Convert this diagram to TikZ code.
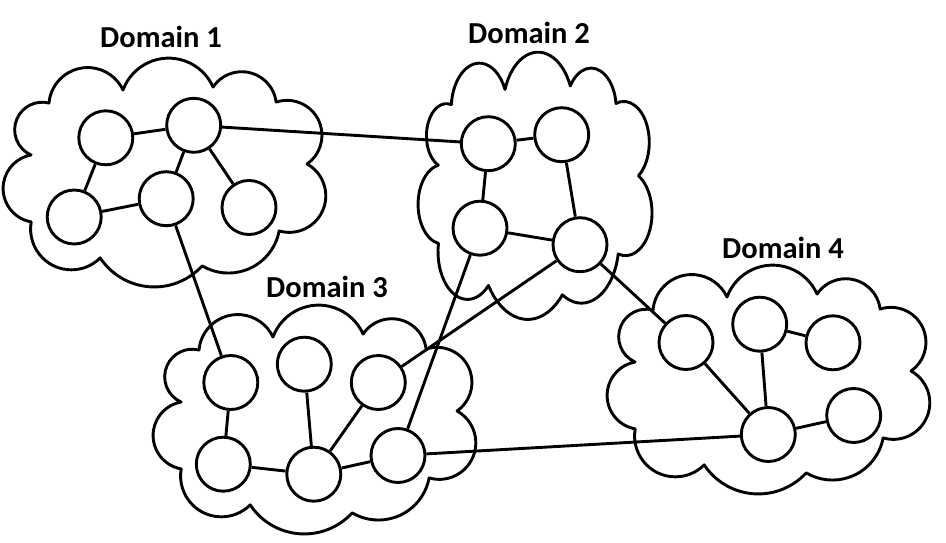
\documentclass[tikz,border=0pt]{standalone}
\usepackage{fontspec}
\setmainfont{Carlito}
\newcommand\mycloud[1]{%
  \begin{scope}[#1]
    \draw[cloudline] (28,-97)
      arc[start angle=245.9, delta angle=-170, radius=27.6]
      arc[start angle=174.96, delta angle=-150, radius=38.9]
      arc[start angle=159.9, delta angle=-136, radius=48.6]
      arc[start angle=146.1, delta angle=-139, radius=34.6]
      arc[start angle=108.07, delta angle=-163, radius=35.0]
      arc[start angle=60.82, delta angle=-167, radius=36.5]
      arc[start angle=-10.56, delta angle=-110, radius=51.6]
      arc[start angle=317.52, delta angle=-104, radius=64.9]
      arc[start angle=314.95, delta angle=-145, radius=40.8]
      arc[start angle=260, delta angle=-160, radius=34.0]
      -- cycle;
  \end{scope}}
\begin{document}
\begin{tikzpicture}[x=1pt,y=1pt,
  nd/.style={circle,draw,line width=2.9pt,fill=white,minimum size=54pt,inner sep=0pt},
  cloudline/.style={line width=2.9pt,line join=round},
  edge/.style={line width=2.9pt},
  lbl/.style={font=\fontsize{30.5}{36}\selectfont\bfseries,inner sep=0pt}]
\useasboundingbox (0,0) rectangle (946,-543);
% clouds
\mycloud{shift={(3,-58)}}
\mycloud{shift={(418,-52)},xscale=0.725,yscale=1.168}
\mycloud{shift={(153,-305)}}
\mycloud{shift={(607,-265)}}
% nodes
\node[nd] (A1) at (105.8,-137.8) {};
\node[nd] (A2) at (193.7,-125.3) {};
\node[nd] (A3) at (74.2,-217) {};
\node[nd] (A4) at (166.2,-198.7) {};
\node[nd] (A5) at (249,-207.5) {};
\node[nd] (B1) at (488.3,-143.7) {};
\node[nd] (B2) at (561.7,-134.7) {};
\node[nd] (B3) at (480,-228.2) {};
\node[nd] (B4) at (580,-244.7) {};
\node[nd] (C1) at (230.8,-382.5) {};
\node[nd] (C2) at (304.3,-364.2) {};
\node[nd] (C3) at (378.3,-382.5) {};
\node[nd] (C4) at (223.3,-464.2) {};
\node[nd] (C5) at (313.8,-474.2) {};
\node[nd] (C6) at (398,-455.5) {};
\node[nd] (D1) at (686,-342.5) {};
\node[nd] (D2) at (759.7,-324.2) {};
\node[nd] (D3) at (833,-342.8) {};
\node[nd] (D4) at (853.7,-415.5) {};
\node[nd] (D5) at (768.3,-434.5) {};
% edges
\draw[edge] (A1) -- (A2);
\draw[edge] (A1) -- (A3);
\draw[edge] (A2) -- (A4);
\draw[edge] (A2) -- (A5);
\draw[edge] (A3) -- (A4);
\draw[edge] (A2) -- (B1);
\draw[edge] (A4) -- (C1);
\draw[edge] (B1) -- (B2);
\draw[edge] (B1) -- (B3);
\draw[edge] (B2) -- (B4);
\draw[edge] (B3) -- (B4);
\draw[edge] (B4) -- (D1);
\draw[edge] (B4) -- (C3);
\draw[edge] (B3) -- (C6);
\draw[edge] (C1) -- (C4);
\draw[edge] (C2) -- (C5);
\draw[edge] (C3) -- (C5);
\draw[edge] (C4) -- (C5);
\draw[edge] (C5) -- (C6);
\draw[edge] (C6) -- (D5);
\draw[edge] (D1) -- (D5);
\draw[edge] (D2) -- (D5);
\draw[edge] (D2) -- (D3);
\draw[edge] (D4) -- (D5);
% labels
\node[lbl] (L1) at (161,-37) {Domain 1};
\node[lbl] (L2) at (529,-33) {Domain 2};
\node[lbl] (L3) at (327,-287) {Domain 3};
\node[lbl] (L4) at (783,-248) {Domain 4};
\end{tikzpicture}
\end{document}
